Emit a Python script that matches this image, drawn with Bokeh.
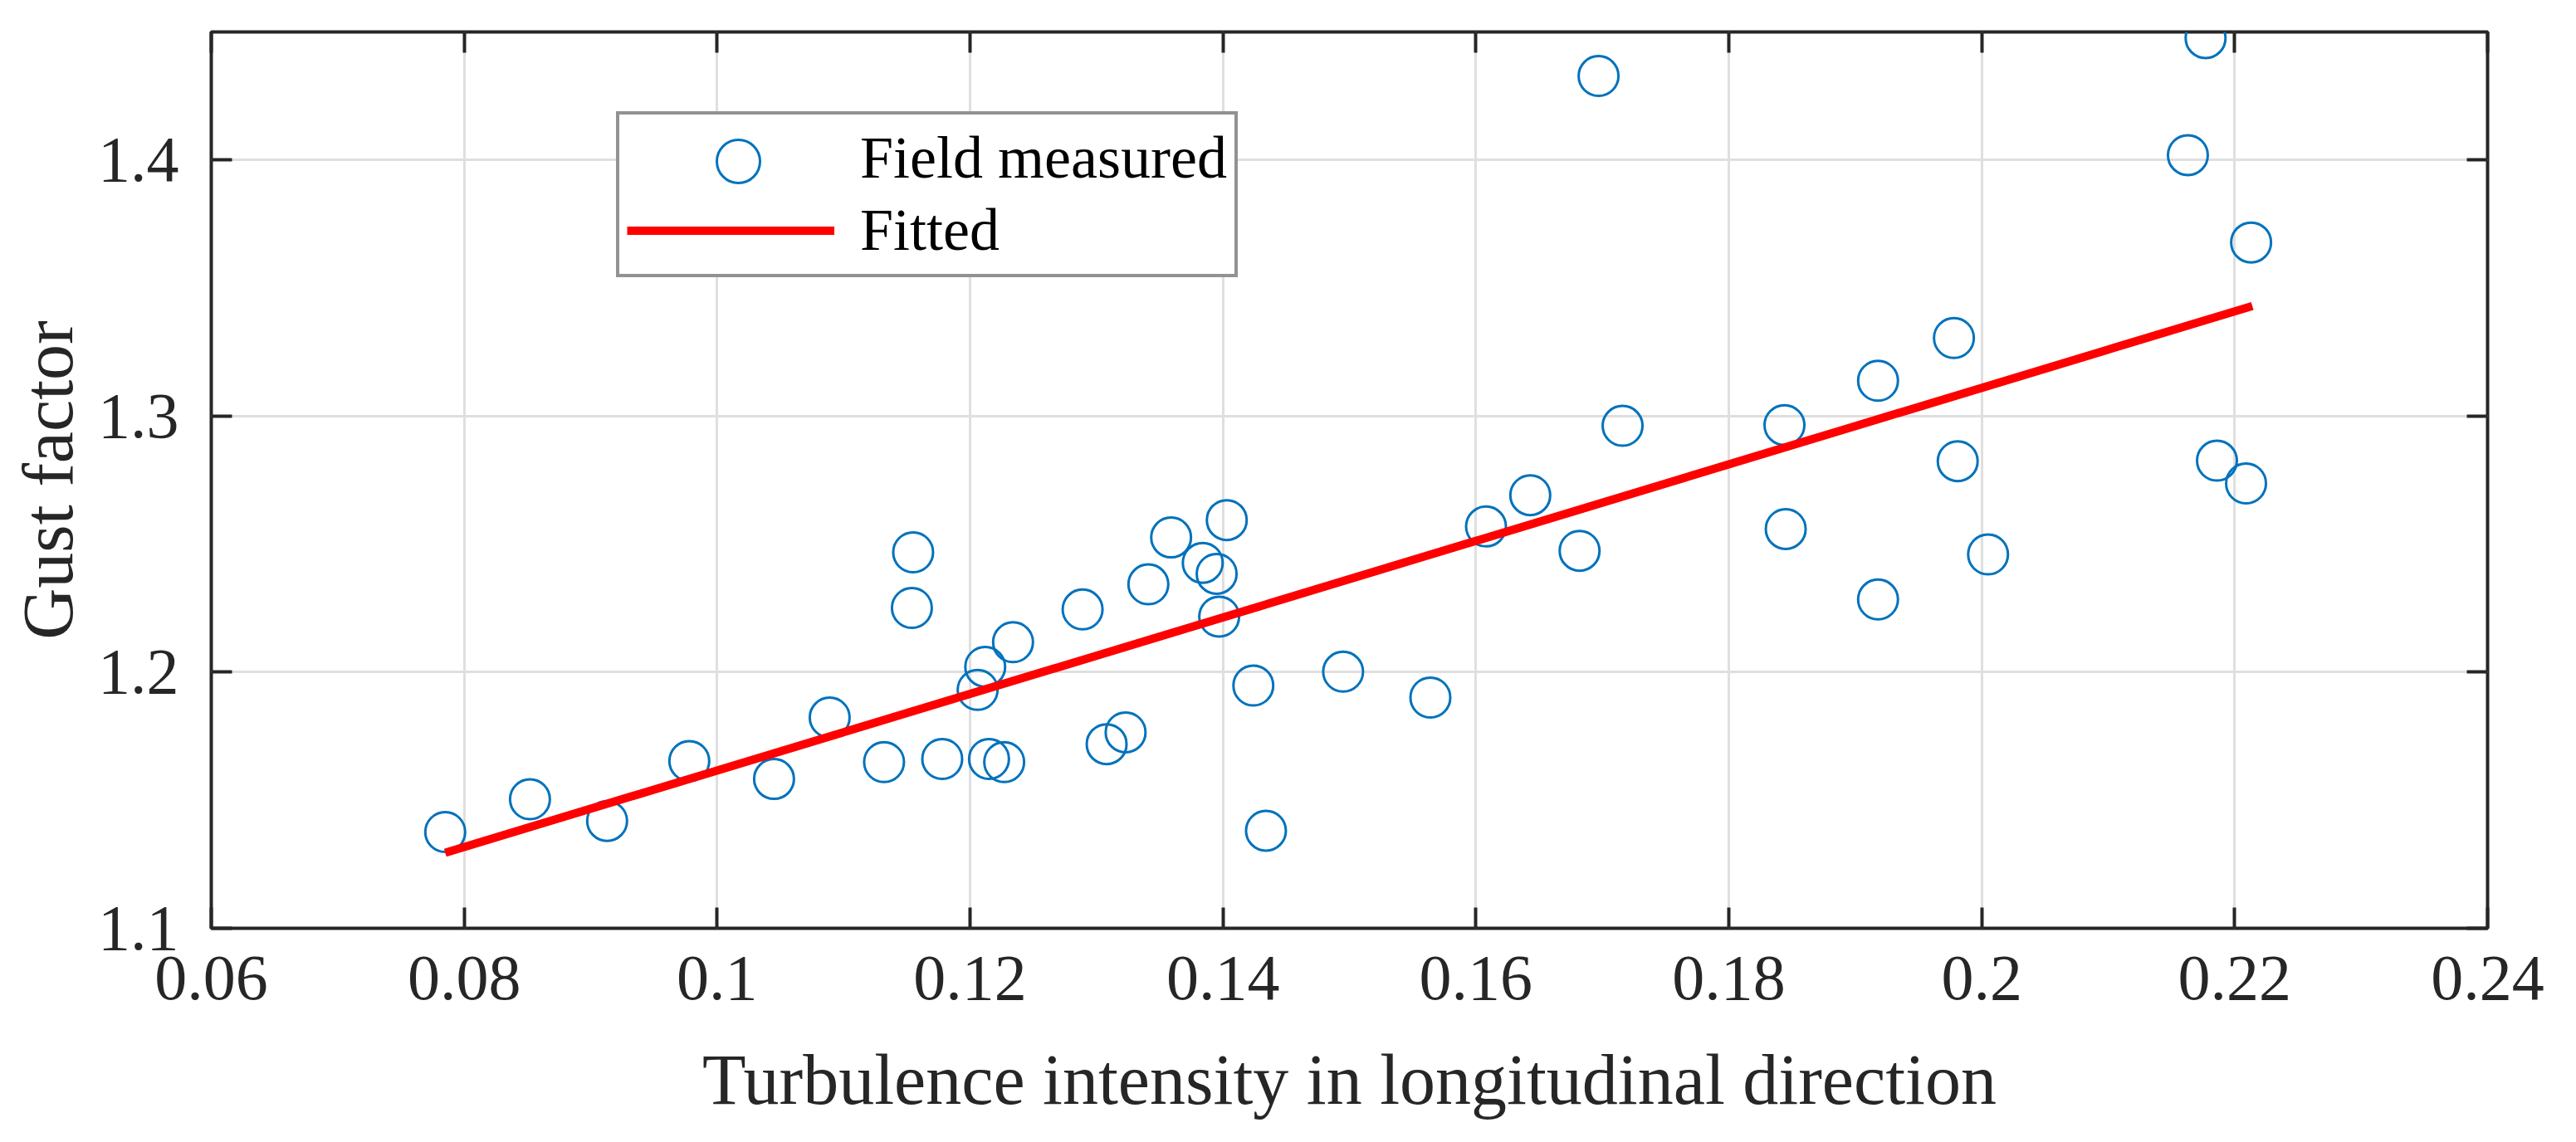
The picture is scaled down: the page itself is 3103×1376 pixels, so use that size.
from bokeh.plotting import figure
from bokeh.models import FixedTicker, LinearAxis, Legend, LegendItem, CustomLabelingPolicy
from bokeh.embed import file_html
from bokeh.resources import INLINE

# Field measured data: turbulence intensity (x) vs gust factor (y)
turbulence_intensity = [
    0.0785, 0.0852, 0.0913, 0.0978, 0.1045, 0.1089, 0.1132, 0.1155, 0.1154,
    0.1178, 0.1206, 0.1212, 0.1215, 0.1227, 0.1234, 0.1289, 0.1308, 0.1323,
    0.1341, 0.1359, 0.1384, 0.1395, 0.1397, 0.1403, 0.1424, 0.1434, 0.1495,
    0.1564, 0.1608, 0.1643, 0.1682, 0.1697, 0.1716, 0.1844, 0.1845, 0.1918,
    0.1918, 0.1978, 0.1981, 0.2005, 0.2163, 0.2177, 0.2186, 0.2209, 0.2213,
]
gust_factor = [
    1.1376, 1.1504, 1.1419, 1.1653, 1.1583, 1.1823, 1.1649, 1.2468, 1.2251,
    1.1661, 1.1931, 1.2021, 1.1661, 1.1649, 1.2117, 1.2245, 1.1719, 1.1765,
    1.2343, 1.2526, 1.2427, 1.2384, 1.2217, 1.2594, 1.1948, 1.1381, 1.2002,
    1.1901, 1.2569, 1.2691, 1.2474, 1.4328, 1.2962, 1.2965, 1.2559, 1.3138,
    1.2284, 1.3305, 1.2824, 1.2460, 1.4019, 1.4476, 1.2826, 1.2737, 1.3678,
]

# Fitted line end points
fit_x = [0.0785, 0.2214]
fit_y = [1.1295, 1.3430]

x_ticks = [0.06, 0.08, 0.10, 0.12, 0.14, 0.16, 0.18, 0.20, 0.22, 0.24]
x_tick_labels = ["0.06", "0.08", "0.1", "0.12", "0.14", "0.16", "0.18", "0.2", "0.22", "0.24"]
y_ticks = [1.1, 1.2, 1.3, 1.4]
y_tick_labels = ["1.1", "1.2", "1.3", "1.4"]

x_title = "Turbulence intensity in longitudinal direction"
y_title = "Gust factor"
series_labels = ["Field measured", "Fitted"]

FONT = "Liberation Serif"
AX = "#262626"
BLUE = "#0072BD"

p = figure(
    width=3087, height=1360,
    x_range=(0.06, 0.24), y_range=(1.1, 1.45),
    output_backend="svg", toolbar_location=None,
    min_border_left=254, min_border_right=91,
    min_border_top=38, min_border_bottom=242,
    background_fill_color="white", border_fill_color="white",
)

p.outline_line_color = AX
p.outline_line_width = 4

# main axes
for ax, ticks, labels in ((p.xaxis[0], x_ticks, x_tick_labels), (p.yaxis[0], y_ticks, y_tick_labels)):
    ax.ticker = FixedTicker(ticks=ticks)
    ax.major_label_overrides = {t: l for t, l in zip(ticks, labels)}
    ax.axis_line_color = None
    ax.major_tick_in = 25
    ax.major_tick_out = 0
    ax.major_tick_line_width = 4
    ax.major_tick_line_color = AX
    ax.minor_tick_line_color = None
    ax.major_label_text_font = FONT
    ax.major_label_text_font_size = "78px"
    ax.major_label_text_color = AX
    ax.axis_label_text_font = FONT
    ax.axis_label_text_font_size = "86px"
    ax.axis_label_text_font_style = "normal"
    ax.axis_label_text_color = AX

p.xaxis[0].axis_label = x_title
p.yaxis[0].axis_label = y_title
p.xaxis[0].major_label_standoff = 34
p.xaxis[0].axis_label_standoff = 46
p.yaxis[0].major_label_standoff = 39
p.yaxis[0].axis_label_standoff = 9

# mirrored ticks on top and right (no labels)
hide_all = CustomLabelingPolicy(code="""
    for (const i of indices)
        indices.unset(i)
    return indices
""")
for loc, ticks in (("above", x_ticks), ("right", y_ticks)):
    ax = LinearAxis(
        ticker=FixedTicker(ticks=ticks),
        axis_line_color=None,
        major_tick_in=25, major_tick_out=0,
        major_tick_line_width=4, major_tick_line_color=AX,
        minor_tick_line_color=None,
        major_label_text_font_size="10px",
        major_label_standoff=0,
        major_label_policy=hide_all,
    )
    p.add_layout(ax, loc)

p.xgrid.ticker = FixedTicker(ticks=x_ticks)
p.ygrid.ticker = FixedTicker(ticks=y_ticks)
p.grid.grid_line_color = "#dfdfdf"
p.grid.grid_line_width = 3

pts = p.scatter(turbulence_intensity, gust_factor, marker="circle", size=48,
                fill_color=None, line_color=BLUE, line_width=3)
fit = p.line(fit_x, fit_y, line_color="#FF0000", line_width=10)
# invisible stand-in so that the boxed legend reserves the marker row
ghost = p.scatter(turbulence_intensity, gust_factor, marker="circle", size=48,
                  fill_alpha=0, line_alpha=0, visible=False)

leg = Legend(
    items=[LegendItem(label=series_labels[0], renderers=[ghost]),
           LegendItem(label=series_labels[1], renderers=[fit])],
    location=(488, 784), margin=0, padding=9, spacing=0,
    glyph_width=250, glyph_height=87, label_standoff=31,
    label_text_font=FONT, label_text_font_size="72px", label_text_color="black",
    border_line_color=AX, border_line_width=4,
    background_fill_color="white", background_fill_alpha=1,
)
p.add_layout(leg)

# full-size marker for the legend's first row
leg_marker = Legend(
    items=[LegendItem(label="", renderers=[pts])],
    location=(510, 859), margin=0, padding=0, spacing=0,
    glyph_width=250, glyph_height=130, label_standoff=0,
    label_text_font_size="10px",
    border_line_color=None, background_fill_alpha=0,
)
p.add_layout(leg_marker)

open("out.html", "w").write(file_html(p, INLINE))
